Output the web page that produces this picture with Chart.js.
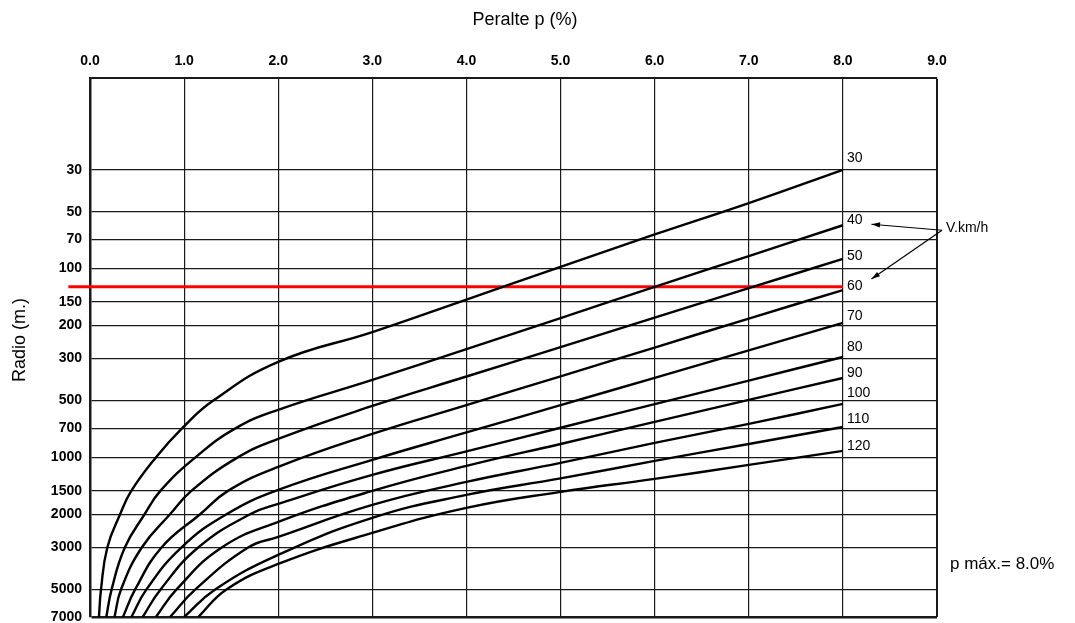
<!DOCTYPE html>
<html>
<head>
<meta charset="utf-8">
<script src="https://cdn.jsdelivr.net/npm/chart.js@4.4.0/dist/chart.umd.min.js"></script>
<style>
  html, body { margin: 0; padding: 0; background: #fff; }
</style>
</head>
<body>
<canvas id="grafico" width="1075" height="623"></canvas>
<script>
// velocidades de diseño (km/h), una curva por velocidad
const velocidades = [30, 40, 50, 60, 70, 80, 90, 100, 110, 120];

// ticks de los ejes
const ticksPeralte = [0, 1, 2, 3, 4, 5, 6, 7, 8, 9];
const ticksRadio = [30, 50, 70, 100, 150, 200, 300, 500, 700, 1000, 1500, 2000, 3000, 5000, 7000];

// curvas: [peralte %, radio m]
const v30 = [[0.095, 7000], [0.117, 5000], [0.184, 3000], [0.32, 2000], [0.44, 1500], [0.70, 1000], [0.98, 700], [1.31, 500], [2, 312], [3, 217], [4, 146], [5, 98], [6, 66], [7, 45], [8, 30]];
const v40 = [[0.173, 7000], [0.23, 5000], [0.37, 3000], [0.58, 2000], [0.75, 1500], [1.12, 1000], [1.55, 700], [2, 560], [3, 389], [4, 267], [5, 183], [6, 125], [7, 86], [8, 59]];
const v50 = [[0.26, 7000], [0.33, 5000], [0.55, 3000], [0.85, 2000], [1.08, 1500], [1.57, 1000], [2, 798], [3, 534], [4, 373], [5, 261], [6, 182], [7, 127], [8, 89]];
const v60 = [[0.35, 7000], [0.48, 5000], [0.76, 3000], [1.17, 2000], [1.47, 1500], [2, 1123], [3, 751], [4, 529], [5, 372], [6, 262], [7, 184], [8, 130]];
const v70 = [[0.44, 7000], [0.60, 5000], [0.97, 3000], [1.45, 2000], [2, 1487], [3, 1031], [4, 738], [5, 529], [6, 379], [7, 271], [8, 194]];
const v80 = [[0.56, 7000], [0.75, 5000], [1.15, 3000], [1.7, 2000], [2, 1763], [3, 1238], [4, 929], [5, 697], [6, 522], [7, 392], [8, 294]];
const v90 = [[0.70, 7000], [0.92, 5000], [1.4, 3000], [2, 2196], [3, 1505], [4, 1110], [5, 849], [6, 649], [7, 496], [8, 380]];
const v100 = [[0.85, 7000], [1.12, 5000], [1.68, 3000], [2, 2637], [3, 1785], [4, 1349], [5, 1070], [6, 838], [7, 665], [8, 521]];
const v110 = [[1.0, 7000], [1.33, 5000], [2, 3283], [3, 2091], [4, 1580], [5, 1292], [6, 1044], [7, 849], [8, 690]];
const v120 = [[1.15, 7000], [1.45, 5000], [2, 3664], [3, 2510], [4, 1851], [5, 1523], [6, 1300], [7, 1096], [8, 924]];
const curvas = [v30, v40, v50, v60, v70, v80, v90, v100, v110, v120];

// linea roja horizontal
const lineaRoja = [[-0.23, 125], [8, 125]];

const fuente = '"Liberation Sans", Arial, sans-serif';

const datasets = curvas.map((c, i) => ({
  label: 'V=' + velocidades[i],
  data: c.map(([p, r]) => ({ x: p, y: r })),
  showLine: true,
  borderColor: '#000',
  borderWidth: 2.4,
  pointRadius: 0,
  tension: 0.45
}));

datasets.push({
  label: 'R',
  data: lineaRoja.map(([p, r]) => ({ x: p, y: r })),
  showLine: true,
  borderColor: '#ff0000',
  borderWidth: 3,
  pointRadius: 0,
  clip: false
});

// textos: etiquetas de curvas, flechas, titulos
const anotaciones = {
  id: 'anotaciones',
  afterDatasetsDraw(chart) {
    const ctx = chart.ctx;
    const xs = chart.scales.x;
    const dy = [-12, -5, -3, -4, -7, -10, -5, -11, -8, -5];
    ctx.save();
    ctx.fillStyle = '#000';
    ctx.font = '14px ' + fuente;
    ctx.textAlign = 'left';
    ctx.textBaseline = 'middle';
    const pos = [];
    velocidades.forEach((v, i) => {
      const meta = chart.getDatasetMeta(i);
      const ult = meta.data[meta.data.length - 1];
      const px = ult.x + 4, py = ult.y + dy[i];
      ctx.fillText(String(v), px, py);
      pos.push({ x: px, y: py, w: ctx.measureText(String(v)).width });
    });

    // V.km/h con flechas hacia 40 y 60
    const x9 = xs.getPixelForValue(9);
    const ox = x9 + 5, oy = pos[1].y + 10;
    ctx.fillText('V.km/h', x9 + 9, oy - 2);
    const flecha = (tx, ty) => {
      ctx.beginPath();
      ctx.moveTo(ox, oy);
      ctx.lineTo(tx, ty);
      ctx.lineWidth = 1.2;
      ctx.strokeStyle = '#000';
      ctx.stroke();
      const a = Math.atan2(ty - oy, tx - ox);
      ctx.beginPath();
      ctx.moveTo(tx, ty);
      ctx.lineTo(tx - 9 * Math.cos(a - 0.3), ty - 9 * Math.sin(a - 0.3));
      ctx.lineTo(tx - 9 * Math.cos(a + 0.3), ty - 9 * Math.sin(a + 0.3));
      ctx.closePath();
      ctx.fill();
    };
    flecha(pos[1].x + pos[1].w + 9, pos[1].y + 4);
    flecha(pos[3].x + pos[3].w + 9, pos[3].y - 7);

    // p max
    ctx.font = '17px ' + fuente;
    ctx.fillText('p máx.= 8.0%', x9 + 13, 564);

    // titulos de ejes
    ctx.textAlign = 'center';
    ctx.font = '18px ' + fuente;
    ctx.fillText('Peralte p (%)', 525, 20);
    ctx.translate(20, 340);
    ctx.rotate(-Math.PI / 2);
    ctx.fillText('Radio (m.)', 0, 0);
    ctx.restore();
  }
};

new Chart(document.getElementById('grafico'), {
  type: 'scatter',
  data: { datasets },
  options: {
    responsive: false,
    devicePixelRatio: 1,
    animation: false,
    layout: { padding: { left: 0, right: 138, top: 0, bottom: 6 } },
    plugins: { legend: { display: false }, tooltip: { enabled: false } },
    scales: {
      x: {
        type: 'linear',
        position: 'top',
        min: 0,
        max: 9,
        afterBuildTicks: (s) => { s.ticks = ticksPeralte.map(v => ({ value: v })); },
        afterFit: (s) => { s.height = 78; s.paddingLeft = 0; s.paddingRight = 0; },
        ticks: {
          padding: 8,
          color: '#000',
          font: { family: fuente, size: 14, weight: 'bold' },
          callback: (v) => v.toFixed(1)
        },
        grid: {
          color: '#1a1a1a',
          lineWidth: (c) => (c.tick && c.tick.value === 9 ? 2 : 1.2),
          drawTicks: false
        },
        border: { display: true, color: '#1a1a1a', width: 2 }
      },
      y: {
        type: 'logarithmic',
        reverse: true,
        min: 9.8,
        max: 7000,
        afterBuildTicks: (s) => { s.ticks = ticksRadio.map(v => ({ value: v })); },
        afterFit: (s) => { s.width = 90; s.paddingTop = 0; s.paddingBottom = 0; },
        ticks: {
          padding: 8,
          color: '#000',
          font: { family: fuente, size: 14, weight: 'bold' },
          callback: (v) => String(v)
        },
        grid: {
          color: '#1a1a1a',
          lineWidth: (c) => (c.tick && c.tick.value === 7000 ? 2.5 : 1.2),
          drawTicks: false
        },
        border: { display: true, color: '#1a1a1a', width: 2.5 }
      }
    }
  },
  plugins: [anotaciones]
});
</script>
</body>
</html>
